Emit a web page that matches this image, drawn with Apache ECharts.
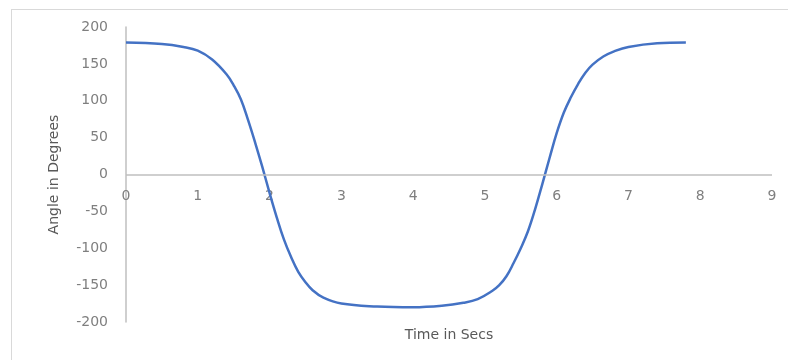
<!DOCTYPE html>
<html>
<head>
<meta charset="utf-8">
<script src="https://cdn.jsdelivr.net/npm/echarts@6/dist/echarts.min.js"></script>
<style>
  html, body { margin: 0; padding: 0; background: #ffffff; }
  .frame {
    position: absolute; left: 11px; top: 9px; width: 800px; height: 400px;
    border: 1px solid #d9d9d9; box-sizing: border-box;
  }
  #chart { position: absolute; left: 0; top: 0; width: 788px; height: 360px; }
</style>
</head>
<body>
<div class="frame"></div>
<div id="chart"></div>
<script>
  // time (s) and angle (deg)
  const timeSecs = [0, 0.5, 0.8, 1.0, 1.2, 1.4, 1.5, 1.6, 1.7, 1.8, 1.9, 2.0, 2.1, 2.2, 2.3, 2.4, 2.5, 2.6,
                    2.75, 3.0, 3.5, 4.0, 4.4, 4.7, 4.9, 5.1, 5.2, 5.3, 5.4, 5.5, 5.6, 5.7, 5.8, 5.9, 6.0,
                    6.1, 6.2, 6.3, 6.4, 6.5, 6.65, 6.8, 7.0, 7.4, 7.8];
  const angleDeg = [179, 177, 173, 168, 156, 136, 121, 102, 74, 43, 10, -25, -58, -88, -112, -132, -146, -157,
                    -167, -175, -179, -180, -178, -174, -169, -158, -150, -138, -120, -100, -77, -47, -13, 22, 56,
                    84, 105, 123, 138, 149, 160, 167, 173, 178, 179];

  const points = timeSecs.map((t, i) => [t, angleDeg[i]]);
  const font = 'DejaVu Sans';

  const chart = echarts.init(document.getElementById('chart'), null, { renderer: 'canvas' });
  chart.setOption({
    animation: false,
    grid: { left: 126, right: 16, top: 27, bottom: 38, containLabel: false, outerBoundsMode: 'none' },
    xAxis: {
      type: 'value',
      min: 0, max: 9, interval: 1,
      name: 'Time in Secs',
      nameLocation: 'middle',
      nameGap: 13,
      nameTextStyle: { fontFamily: font, fontSize: 14, color: '#595959', verticalAlign: 'middle' },
      axisLine: { show: false, onZero: false },
      axisTick: { show: false },
      splitLine: { show: false },
      // labels sit just under the zero line, like the original
      axisLabel: { margin: -133, fontFamily: font, fontSize: 14, color: '#7f7f7f' }
    },
    yAxis: {
      type: 'value',
      min: -200, max: 200, interval: 50,
      name: 'Angle in Degrees',
      nameLocation: 'middle',
      nameGap: 65,
      nameTextStyle: { fontFamily: font, fontSize: 14, color: '#595959' },
      axisLine: { show: true, lineStyle: { color: '#bfbfbf', width: 1.5 } },
      axisTick: { show: false },
      splitLine: { show: false },
      axisLabel: { margin: 18, fontFamily: font, fontSize: 14, color: '#7f7f7f' }
    },
    series: [{
      type: 'line',
      data: points,
      smooth: 0.4,
      showSymbol: false,
      lineStyle: { color: '#4472c4', width: 2.5 },
      markLine: {
        silent: true,
        symbol: 'none',
        label: { show: false },
        lineStyle: { color: '#bfbfbf', width: 1.5, type: 'solid' },
        data: [{ yAxis: 0 }]
      },
      z: 3
    }]
  });
</script>
</body>
</html>
